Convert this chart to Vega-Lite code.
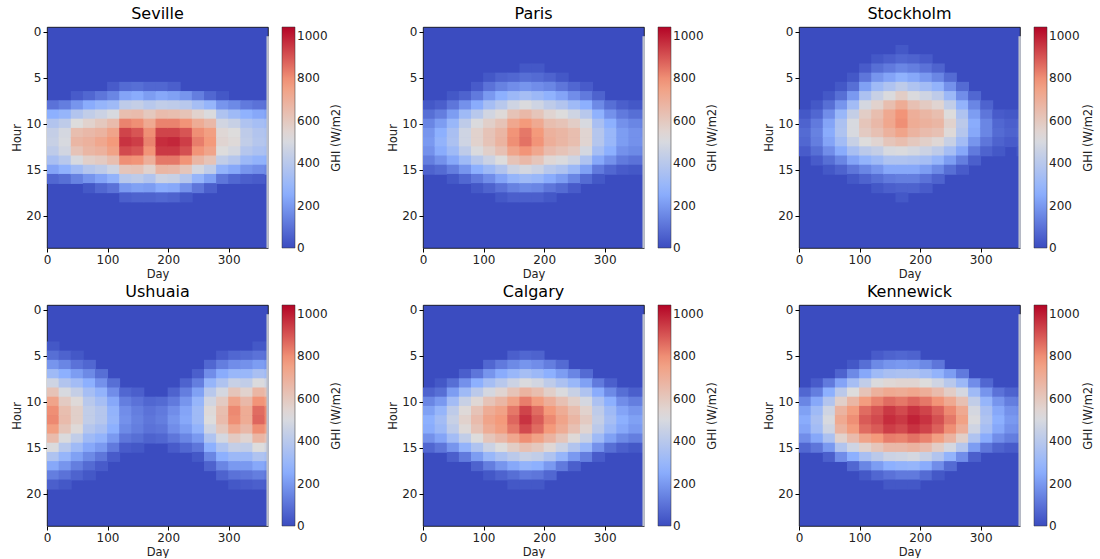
{"$schema":"https://vega.github.io/schema/vega-lite/v6.json","background":"white","padding":{"left":11,"top":5,"right":0,"bottom":0},
"datasets":{"e":[{"d":364.5,"a":0.5,"b":23.5}],
"s":[{"d":10,"h":8,"v":100},{"d":10,"h":9,"v":260},{"d":10,"h":10,"v":380},{"d":10,"h":11,"v":440},{"d":10,"h":12,"v":450},{"d":10,"h":13,"v":420},{"d":10,"h":14,"v":350},{"d":10,"h":15,"v":230},{"d":10,"h":16,"v":70},
{"d":30,"h":8,"v":130},{"d":30,"h":9,"v":290},{"d":30,"h":10,"v":420},{"d":30,"h":11,"v":490},{"d":30,"h":12,"v":500},{"d":30,"h":13,"v":480},{"d":30,"h":14,"v":400},{"d":30,"h":15,"v":270},{"d":30,"h":16,"v":90},
{"d":50,"h":7,"v":40},{"d":50,"h":8,"v":190},{"d":50,"h":9,"v":380},{"d":50,"h":10,"v":520},{"d":50,"h":11,"v":640},{"d":50,"h":12,"v":670},{"d":50,"h":13,"v":620},{"d":50,"h":14,"v":500},{"d":50,"h":15,"v":330},{"d":50,"h":16,"v":140},
{"d":70,"h":7,"v":70},{"d":70,"h":8,"v":250},{"d":70,"h":9,"v":430},{"d":70,"h":10,"v":560},{"d":70,"h":11,"v":660},{"d":70,"h":12,"v":690},{"d":70,"h":13,"v":670},{"d":70,"h":14,"v":570},{"d":70,"h":15,"v":390},{"d":70,"h":16,"v":190},{"d":70,"h":17,"v":30},
{"d":90,"h":7,"v":110},{"d":90,"h":8,"v":290},{"d":90,"h":9,"v":460},{"d":90,"h":10,"v":600},{"d":90,"h":11,"v":680},{"d":90,"h":12,"v":730},{"d":90,"h":13,"v":690},{"d":90,"h":14,"v":590},{"d":90,"h":15,"v":420},{"d":90,"h":16,"v":230},{"d":90,"h":17,"v":70},
{"d":110,"h":6,"v":40},{"d":110,"h":7,"v":150},{"d":110,"h":8,"v":320},{"d":110,"h":9,"v":500},{"d":110,"h":10,"v":650},{"d":110,"h":11,"v":740},{"d":110,"h":12,"v":780},{"d":110,"h":13,"v":750},{"d":110,"h":14,"v":640},{"d":110,"h":15,"v":470},{"d":110,"h":16,"v":280},{"d":110,"h":17,"v":100},
{"d":130,"h":6,"v":80},{"d":130,"h":7,"v":230},{"d":130,"h":8,"v":420},{"d":130,"h":9,"v":640},{"d":130,"h":10,"v":820},{"d":130,"h":11,"v":930},{"d":130,"h":12,"v":960},{"d":130,"h":13,"v":920},{"d":130,"h":14,"v":800},{"d":130,"h":15,"v":610},{"d":130,"h":16,"v":400},{"d":130,"h":17,"v":200},{"d":130,"h":18,"v":50},
{"d":150,"h":6,"v":90},{"d":150,"h":7,"v":250},{"d":150,"h":8,"v":440},{"d":150,"h":9,"v":650},{"d":150,"h":10,"v":800},{"d":150,"h":11,"v":900},{"d":150,"h":12,"v":940},{"d":150,"h":13,"v":900},{"d":150,"h":14,"v":790},{"d":150,"h":15,"v":620},{"d":150,"h":16,"v":420},{"d":150,"h":17,"v":220},{"d":150,"h":18,"v":60},
{"d":170,"h":6,"v":70},{"d":170,"h":7,"v":210},{"d":170,"h":8,"v":400},{"d":170,"h":9,"v":600},{"d":170,"h":10,"v":720},{"d":170,"h":11,"v":800},{"d":170,"h":12,"v":820},{"d":170,"h":13,"v":790},{"d":170,"h":14,"v":700},{"d":170,"h":15,"v":560},{"d":170,"h":16,"v":380},{"d":170,"h":17,"v":210},{"d":170,"h":18,"v":60},
{"d":190,"h":6,"v":70},{"d":190,"h":7,"v":240},{"d":190,"h":8,"v":430},{"d":190,"h":9,"v":650},{"d":190,"h":10,"v":820},{"d":190,"h":11,"v":930},{"d":190,"h":12,"v":970},{"d":190,"h":13,"v":950},{"d":190,"h":14,"v":840},{"d":190,"h":15,"v":670},{"d":190,"h":16,"v":460},{"d":190,"h":17,"v":250},{"d":190,"h":18,"v":70},
{"d":210,"h":6,"v":50},{"d":210,"h":7,"v":220},{"d":210,"h":8,"v":420},{"d":210,"h":9,"v":640},{"d":210,"h":10,"v":820},{"d":210,"h":11,"v":930},{"d":210,"h":12,"v":980},{"d":210,"h":13,"v":950},{"d":210,"h":14,"v":840},{"d":210,"h":15,"v":660},{"d":210,"h":16,"v":450},{"d":210,"h":17,"v":240},{"d":210,"h":18,"v":60},
{"d":230,"h":7,"v":190},{"d":230,"h":8,"v":400},{"d":230,"h":9,"v":620},{"d":230,"h":10,"v":790},{"d":230,"h":11,"v":900},{"d":230,"h":12,"v":940},{"d":230,"h":13,"v":910},{"d":230,"h":14,"v":790},{"d":230,"h":15,"v":610},{"d":230,"h":16,"v":390},{"d":230,"h":17,"v":180},{"d":230,"h":18,"v":30},
{"d":250,"h":7,"v":130},{"d":250,"h":8,"v":340},{"d":250,"h":9,"v":560},{"d":250,"h":10,"v":710},{"d":250,"h":11,"v":800},{"d":250,"h":12,"v":830},{"d":250,"h":13,"v":790},{"d":250,"h":14,"v":670},{"d":250,"h":15,"v":490},{"d":250,"h":16,"v":290},{"d":250,"h":17,"v":110},
{"d":270,"h":7,"v":70},{"d":270,"h":8,"v":290},{"d":270,"h":9,"v":510},{"d":270,"h":10,"v":660},{"d":270,"h":11,"v":760},{"d":270,"h":12,"v":780},{"d":270,"h":13,"v":740},{"d":270,"h":14,"v":620},{"d":270,"h":15,"v":430},{"d":270,"h":16,"v":220},{"d":270,"h":17,"v":50},
{"d":290,"h":7,"v":30},{"d":290,"h":8,"v":190},{"d":290,"h":9,"v":370},{"d":290,"h":10,"v":480},{"d":290,"h":11,"v":540},{"d":290,"h":12,"v":550},{"d":290,"h":13,"v":520},{"d":290,"h":14,"v":430},{"d":290,"h":15,"v":280},{"d":290,"h":16,"v":110},
{"d":310,"h":8,"v":160},{"d":310,"h":9,"v":320},{"d":310,"h":10,"v":450},{"d":310,"h":11,"v":520},{"d":310,"h":12,"v":530},{"d":310,"h":13,"v":490},{"d":310,"h":14,"v":390},{"d":310,"h":15,"v":240},{"d":310,"h":16,"v":70},
{"d":330,"h":8,"v":120},{"d":330,"h":9,"v":270},{"d":330,"h":10,"v":370},{"d":330,"h":11,"v":420},{"d":330,"h":12,"v":430},{"d":330,"h":13,"v":390},{"d":330,"h":14,"v":310},{"d":330,"h":15,"v":190},{"d":330,"h":16,"v":50},
{"d":350,"h":8,"v":100},{"d":350,"h":9,"v":240},{"d":350,"h":10,"v":340},{"d":350,"h":11,"v":380},{"d":350,"h":12,"v":390},{"d":350,"h":13,"v":360},{"d":350,"h":14,"v":280},{"d":350,"h":15,"v":170},{"d":350,"h":16,"v":40},
{"d":370,"h":8,"v":90},{"d":370,"h":9,"v":220},{"d":370,"h":10,"v":320},{"d":370,"h":11,"v":360},{"d":370,"h":12,"v":370},{"d":370,"h":13,"v":340},{"d":370,"h":14,"v":260},{"d":370,"h":15,"v":150}],
"p":[{"d":10,"h":8,"v":30},{"d":10,"h":9,"v":90},{"d":10,"h":10,"v":150},{"d":10,"h":11,"v":190},{"d":10,"h":12,"v":200},{"d":10,"h":13,"v":180},{"d":10,"h":14,"v":130},{"d":10,"h":15,"v":60},
{"d":30,"h":8,"v":50},{"d":30,"h":9,"v":130},{"d":30,"h":10,"v":210},{"d":30,"h":11,"v":260},{"d":30,"h":12,"v":280},{"d":30,"h":13,"v":250},{"d":30,"h":14,"v":180},{"d":30,"h":15,"v":80},
{"d":50,"h":7,"v":30},{"d":50,"h":8,"v":110},{"d":50,"h":9,"v":210},{"d":50,"h":10,"v":300},{"d":50,"h":11,"v":350},{"d":50,"h":12,"v":360},{"d":50,"h":13,"v":320},{"d":50,"h":14,"v":240},{"d":50,"h":15,"v":130},{"d":50,"h":16,"v":30},
{"d":70,"h":7,"v":60},{"d":70,"h":8,"v":180},{"d":70,"h":9,"v":320},{"d":70,"h":10,"v":420},{"d":70,"h":11,"v":470},{"d":70,"h":12,"v":470},{"d":70,"h":13,"v":420},{"d":70,"h":14,"v":320},{"d":70,"h":15,"v":190},{"d":70,"h":16,"v":70},
{"d":90,"h":6,"v":40},{"d":90,"h":7,"v":120},{"d":90,"h":8,"v":250},{"d":90,"h":9,"v":400},{"d":90,"h":10,"v":510},{"d":90,"h":11,"v":560},{"d":90,"h":12,"v":560},{"d":90,"h":13,"v":510},{"d":90,"h":14,"v":400},{"d":90,"h":15,"v":260},{"d":90,"h":16,"v":120},{"d":90,"h":17,"v":30},
{"d":110,"h":5,"v":30},{"d":110,"h":6,"v":100},{"d":110,"h":7,"v":200},{"d":110,"h":8,"v":340},{"d":110,"h":9,"v":480},{"d":110,"h":10,"v":570},{"d":110,"h":11,"v":620},{"d":110,"h":12,"v":620},{"d":110,"h":13,"v":570},{"d":110,"h":14,"v":460},{"d":110,"h":15,"v":320},{"d":110,"h":16,"v":170},{"d":110,"h":17,"v":60},
{"d":130,"h":5,"v":60},{"d":130,"h":6,"v":140},{"d":130,"h":7,"v":260},{"d":130,"h":8,"v":400},{"d":130,"h":9,"v":530},{"d":130,"h":10,"v":620},{"d":130,"h":11,"v":670},{"d":130,"h":12,"v":680},{"d":130,"h":13,"v":630},{"d":130,"h":14,"v":520},{"d":130,"h":15,"v":380},{"d":130,"h":16,"v":230},{"d":130,"h":17,"v":100},{"d":130,"h":18,"v":30},
{"d":150,"h":5,"v":70},{"d":150,"h":6,"v":170},{"d":150,"h":7,"v":310},{"d":150,"h":8,"v":470},{"d":150,"h":9,"v":620},{"d":150,"h":10,"v":730},{"d":150,"h":11,"v":790},{"d":150,"h":12,"v":800},{"d":150,"h":13,"v":740},{"d":150,"h":14,"v":620},{"d":150,"h":15,"v":460},{"d":150,"h":16,"v":290},{"d":150,"h":17,"v":140},{"d":150,"h":18,"v":50},
{"d":170,"h":4,"v":30},{"d":170,"h":5,"v":90},{"d":170,"h":6,"v":190},{"d":170,"h":7,"v":340},{"d":170,"h":8,"v":510},{"d":170,"h":9,"v":660},{"d":170,"h":10,"v":780},{"d":170,"h":11,"v":840},{"d":170,"h":12,"v":850},{"d":170,"h":13,"v":790},{"d":170,"h":14,"v":660},{"d":170,"h":15,"v":490},{"d":170,"h":16,"v":320},{"d":170,"h":17,"v":160},{"d":170,"h":18,"v":50},
{"d":190,"h":4,"v":30},{"d":190,"h":5,"v":80},{"d":190,"h":6,"v":170},{"d":190,"h":7,"v":310},{"d":190,"h":8,"v":470},{"d":190,"h":9,"v":610},{"d":190,"h":10,"v":720},{"d":190,"h":11,"v":780},{"d":190,"h":12,"v":790},{"d":190,"h":13,"v":730},{"d":190,"h":14,"v":610},{"d":190,"h":15,"v":460},{"d":190,"h":16,"v":300},{"d":190,"h":17,"v":150},{"d":190,"h":18,"v":50},
{"d":210,"h":5,"v":60},{"d":210,"h":6,"v":150},{"d":210,"h":7,"v":270},{"d":210,"h":8,"v":420},{"d":210,"h":9,"v":550},{"d":210,"h":10,"v":640},{"d":210,"h":11,"v":690},{"d":210,"h":12,"v":700},{"d":210,"h":13,"v":650},{"d":210,"h":14,"v":540},{"d":210,"h":15,"v":400},{"d":210,"h":16,"v":250},{"d":210,"h":17,"v":110},{"d":210,"h":18,"v":30},
{"d":230,"h":5,"v":30},{"d":230,"h":6,"v":110},{"d":230,"h":7,"v":230},{"d":230,"h":8,"v":380},{"d":230,"h":9,"v":520},{"d":230,"h":10,"v":620},{"d":230,"h":11,"v":670},{"d":230,"h":12,"v":670},{"d":230,"h":13,"v":620},{"d":230,"h":14,"v":510},{"d":230,"h":15,"v":370},{"d":230,"h":16,"v":210},{"d":230,"h":17,"v":80},
{"d":250,"h":6,"v":70},{"d":250,"h":7,"v":170},{"d":250,"h":8,"v":320},{"d":250,"h":9,"v":470},{"d":250,"h":10,"v":580},{"d":250,"h":11,"v":640},{"d":250,"h":12,"v":640},{"d":250,"h":13,"v":590},{"d":250,"h":14,"v":470},{"d":250,"h":15,"v":310},{"d":250,"h":16,"v":150},{"d":250,"h":17,"v":40},
{"d":270,"h":6,"v":40},{"d":270,"h":7,"v":120},{"d":270,"h":8,"v":260},{"d":270,"h":9,"v":400},{"d":270,"h":10,"v":500},{"d":270,"h":11,"v":550},{"d":270,"h":12,"v":550},{"d":270,"h":13,"v":490},{"d":270,"h":14,"v":370},{"d":270,"h":15,"v":220},{"d":270,"h":16,"v":80},
{"d":290,"h":7,"v":60},{"d":290,"h":8,"v":160},{"d":290,"h":9,"v":270},{"d":290,"h":10,"v":350},{"d":290,"h":11,"v":390},{"d":290,"h":12,"v":390},{"d":290,"h":13,"v":340},{"d":290,"h":14,"v":240},{"d":290,"h":15,"v":120},{"d":290,"h":16,"v":30},
{"d":310,"h":8,"v":90},{"d":310,"h":9,"v":180},{"d":310,"h":10,"v":260},{"d":310,"h":11,"v":300},{"d":310,"h":12,"v":300},{"d":310,"h":13,"v":260},{"d":310,"h":14,"v":180},{"d":310,"h":15,"v":70},
{"d":330,"h":8,"v":50},{"d":330,"h":9,"v":120},{"d":330,"h":10,"v":180},{"d":330,"h":11,"v":210},{"d":330,"h":12,"v":210},{"d":330,"h":13,"v":180},{"d":330,"h":14,"v":120},{"d":330,"h":15,"v":40},
{"d":350,"h":8,"v":30},{"d":350,"h":9,"v":90},{"d":350,"h":10,"v":150},{"d":350,"h":11,"v":180},{"d":350,"h":12,"v":180},{"d":350,"h":13,"v":160},{"d":350,"h":14,"v":100},{"d":350,"h":15,"v":30},
{"d":370,"h":8,"v":30},{"d":370,"h":9,"v":90},{"d":370,"h":10,"v":140},{"d":370,"h":11,"v":170},{"d":370,"h":12,"v":180},{"d":370,"h":13,"v":150},{"d":370,"h":14,"v":100},{"d":370,"h":15,"v":30}],
"k":[{"d":10,"h":9,"v":30},{"d":10,"h":10,"v":60},{"d":10,"h":11,"v":80},{"d":10,"h":12,"v":70},{"d":10,"h":13,"v":40},
{"d":30,"h":8,"v":30},{"d":30,"h":9,"v":70},{"d":30,"h":10,"v":120},{"d":30,"h":11,"v":140},{"d":30,"h":12,"v":130},{"d":30,"h":13,"v":90},{"d":30,"h":14,"v":40},
{"d":50,"h":7,"v":30},{"d":50,"h":8,"v":90},{"d":50,"h":9,"v":170},{"d":50,"h":10,"v":230},{"d":50,"h":11,"v":250},{"d":50,"h":12,"v":230},{"d":50,"h":13,"v":170},{"d":50,"h":14,"v":90},{"d":50,"h":15,"v":30},
{"d":70,"h":6,"v":30},{"d":70,"h":7,"v":90},{"d":70,"h":8,"v":190},{"d":70,"h":9,"v":300},{"d":70,"h":10,"v":360},{"d":70,"h":11,"v":370},{"d":70,"h":12,"v":330},{"d":70,"h":13,"v":250},{"d":70,"h":14,"v":150},{"d":70,"h":15,"v":60},
{"d":90,"h":5,"v":30},{"d":90,"h":6,"v":90},{"d":90,"h":7,"v":200},{"d":90,"h":8,"v":330},{"d":90,"h":9,"v":440},{"d":90,"h":10,"v":500},{"d":90,"h":11,"v":500},{"d":90,"h":12,"v":450},{"d":90,"h":13,"v":350},{"d":90,"h":14,"v":230},{"d":90,"h":15,"v":110},{"d":90,"h":16,"v":30},
{"d":110,"h":4,"v":40},{"d":110,"h":5,"v":110},{"d":110,"h":6,"v":220},{"d":110,"h":7,"v":360},{"d":110,"h":8,"v":490},{"d":110,"h":9,"v":580},{"d":110,"h":10,"v":610},{"d":110,"h":11,"v":590},{"d":110,"h":12,"v":520},{"d":110,"h":13,"v":410},{"d":110,"h":14,"v":280},{"d":110,"h":15,"v":150},{"d":110,"h":16,"v":60},
{"d":130,"h":3,"v":30},{"d":130,"h":4,"v":90},{"d":130,"h":5,"v":190},{"d":130,"h":6,"v":320},{"d":130,"h":7,"v":450},{"d":130,"h":8,"v":560},{"d":130,"h":9,"v":640},{"d":130,"h":10,"v":660},{"d":130,"h":11,"v":630},{"d":130,"h":12,"v":550},{"d":130,"h":13,"v":440},{"d":130,"h":14,"v":320},{"d":130,"h":15,"v":190},{"d":130,"h":16,"v":90},{"d":130,"h":17,"v":30},
{"d":150,"h":3,"v":50},{"d":150,"h":4,"v":120},{"d":150,"h":5,"v":230},{"d":150,"h":6,"v":370},{"d":150,"h":7,"v":510},{"d":150,"h":8,"v":640},{"d":150,"h":9,"v":720},{"d":150,"h":10,"v":730},{"d":150,"h":11,"v":690},{"d":150,"h":12,"v":610},{"d":150,"h":13,"v":500},{"d":150,"h":14,"v":370},{"d":150,"h":15,"v":240},{"d":150,"h":16,"v":120},{"d":150,"h":17,"v":50},
{"d":170,"h":2,"v":30},{"d":170,"h":3,"v":70},{"d":170,"h":4,"v":150},{"d":170,"h":5,"v":270},{"d":170,"h":6,"v":420},{"d":170,"h":7,"v":580},{"d":170,"h":8,"v":710},{"d":170,"h":9,"v":790},{"d":170,"h":10,"v":800},{"d":170,"h":11,"v":740},{"d":170,"h":12,"v":640},{"d":170,"h":13,"v":510},{"d":170,"h":14,"v":370},{"d":170,"h":15,"v":240},{"d":170,"h":16,"v":130},{"d":170,"h":17,"v":60},{"d":170,"h":18,"v":30},
{"d":190,"h":3,"v":60},{"d":190,"h":4,"v":130},{"d":190,"h":5,"v":240},{"d":190,"h":6,"v":370},{"d":190,"h":7,"v":510},{"d":190,"h":8,"v":630},{"d":190,"h":9,"v":700},{"d":190,"h":10,"v":710},{"d":190,"h":11,"v":680},{"d":190,"h":12,"v":600},{"d":190,"h":13,"v":490},{"d":190,"h":14,"v":360},{"d":190,"h":15,"v":240},{"d":190,"h":16,"v":130},{"d":190,"h":17,"v":60},
{"d":210,"h":3,"v":40},{"d":210,"h":4,"v":100},{"d":210,"h":5,"v":200},{"d":210,"h":6,"v":330},{"d":210,"h":7,"v":470},{"d":210,"h":8,"v":590},{"d":210,"h":9,"v":670},{"d":210,"h":10,"v":690},{"d":210,"h":11,"v":650},{"d":210,"h":12,"v":570},{"d":210,"h":13,"v":460},{"d":210,"h":14,"v":340},{"d":210,"h":15,"v":210},{"d":210,"h":16,"v":100},{"d":210,"h":17,"v":40},
{"d":230,"h":4,"v":60},{"d":230,"h":5,"v":150},{"d":230,"h":6,"v":280},{"d":230,"h":7,"v":420},{"d":230,"h":8,"v":550},{"d":230,"h":9,"v":640},{"d":230,"h":10,"v":670},{"d":230,"h":11,"v":630},{"d":230,"h":12,"v":540},{"d":230,"h":13,"v":420},{"d":230,"h":14,"v":290},{"d":230,"h":15,"v":160},{"d":230,"h":16,"v":60},
{"d":250,"h":5,"v":80},{"d":250,"h":6,"v":180},{"d":250,"h":7,"v":310},{"d":250,"h":8,"v":430},{"d":250,"h":9,"v":520},{"d":250,"h":10,"v":560},{"d":250,"h":11,"v":530},{"d":250,"h":12,"v":450},{"d":250,"h":13,"v":340},{"d":250,"h":14,"v":210},{"d":250,"h":15,"v":90},
{"d":270,"h":6,"v":80},{"d":270,"h":7,"v":170},{"d":270,"h":8,"v":280},{"d":270,"h":9,"v":370},{"d":270,"h":10,"v":410},{"d":270,"h":11,"v":390},{"d":270,"h":12,"v":330},{"d":270,"h":13,"v":240},{"d":270,"h":14,"v":130},{"d":270,"h":15,"v":40},
{"d":290,"h":7,"v":70},{"d":290,"h":8,"v":150},{"d":290,"h":9,"v":210},{"d":290,"h":10,"v":250},{"d":290,"h":11,"v":240},{"d":290,"h":12,"v":190},{"d":290,"h":13,"v":120},{"d":290,"h":14,"v":50},
{"d":310,"h":8,"v":60},{"d":310,"h":9,"v":110},{"d":310,"h":10,"v":150},{"d":310,"h":11,"v":150},{"d":310,"h":12,"v":110},{"d":310,"h":13,"v":60},
{"d":330,"h":9,"v":40},{"d":330,"h":10,"v":70},{"d":330,"h":11,"v":80},{"d":330,"h":12,"v":60},{"d":330,"h":13,"v":30},
{"d":350,"h":9,"v":30},{"d":350,"h":10,"v":50},{"d":350,"h":11,"v":60},{"d":350,"h":12,"v":40},
{"d":370,"h":9,"v":30},{"d":370,"h":10,"v":60},{"d":370,"h":11,"v":70},{"d":370,"h":12,"v":50},{"d":370,"h":13,"v":30}],
"u":[{"d":10,"h":4,"v":30},{"d":10,"h":5,"v":90},{"d":10,"h":6,"v":190},{"d":10,"h":7,"v":320},{"d":10,"h":8,"v":470},{"d":10,"h":9,"v":620},{"d":10,"h":10,"v":740},{"d":10,"h":11,"v":800},{"d":10,"h":12,"v":810},{"d":10,"h":13,"v":760},{"d":10,"h":14,"v":650},{"d":10,"h":15,"v":510},{"d":10,"h":16,"v":370},{"d":10,"h":17,"v":240},{"d":10,"h":18,"v":130},{"d":10,"h":19,"v":50},
{"d":30,"h":5,"v":60},{"d":30,"h":6,"v":150},{"d":30,"h":7,"v":260},{"d":30,"h":8,"v":380},{"d":30,"h":9,"v":500},{"d":30,"h":10,"v":590},{"d":30,"h":11,"v":640},{"d":30,"h":12,"v":650},{"d":30,"h":13,"v":610},{"d":30,"h":14,"v":510},{"d":30,"h":15,"v":400},{"d":30,"h":16,"v":290},{"d":30,"h":17,"v":190},{"d":30,"h":18,"v":100},{"d":30,"h":19,"v":30},
{"d":50,"h":5,"v":30},{"d":50,"h":6,"v":100},{"d":50,"h":7,"v":210},{"d":50,"h":8,"v":330},{"d":50,"h":9,"v":440},{"d":50,"h":10,"v":530},{"d":50,"h":11,"v":570},{"d":50,"h":12,"v":570},{"d":50,"h":13,"v":530},{"d":50,"h":14,"v":430},{"d":50,"h":15,"v":320},{"d":50,"h":16,"v":220},{"d":50,"h":17,"v":130},{"d":50,"h":18,"v":60},
{"d":70,"h":6,"v":70},{"d":70,"h":7,"v":160},{"d":70,"h":8,"v":260},{"d":70,"h":9,"v":340},{"d":70,"h":10,"v":400},{"d":70,"h":11,"v":430},{"d":70,"h":12,"v":430},{"d":70,"h":13,"v":390},{"d":70,"h":14,"v":320},{"d":70,"h":15,"v":240},{"d":70,"h":16,"v":160},{"d":70,"h":17,"v":80},{"d":70,"h":18,"v":30},
{"d":90,"h":7,"v":90},{"d":90,"h":8,"v":180},{"d":90,"h":9,"v":280},{"d":90,"h":10,"v":340},{"d":90,"h":11,"v":390},{"d":90,"h":12,"v":390},{"d":90,"h":13,"v":350},{"d":90,"h":14,"v":280},{"d":90,"h":15,"v":200},{"d":90,"h":16,"v":110},{"d":90,"h":17,"v":40},
{"d":110,"h":8,"v":90},{"d":110,"h":9,"v":170},{"d":110,"h":10,"v":240},{"d":110,"h":11,"v":280},{"d":110,"h":12,"v":290},{"d":110,"h":13,"v":260},{"d":110,"h":14,"v":200},{"d":110,"h":15,"v":120},{"d":110,"h":16,"v":40},
{"d":130,"h":9,"v":70},{"d":130,"h":10,"v":130},{"d":130,"h":11,"v":170},{"d":130,"h":12,"v":180},{"d":130,"h":13,"v":160},{"d":130,"h":14,"v":110},{"d":130,"h":15,"v":40},
{"d":150,"h":9,"v":50},{"d":150,"h":10,"v":100},{"d":150,"h":11,"v":130},{"d":150,"h":12,"v":140},{"d":150,"h":13,"v":130},{"d":150,"h":14,"v":90},{"d":150,"h":15,"v":30},
{"d":170,"h":10,"v":70},{"d":170,"h":11,"v":100},{"d":170,"h":12,"v":110},{"d":170,"h":13,"v":100},{"d":170,"h":14,"v":60},
{"d":190,"h":10,"v":80},{"d":190,"h":11,"v":120},{"d":190,"h":12,"v":130},{"d":190,"h":13,"v":110},{"d":190,"h":14,"v":70},
{"d":210,"h":9,"v":60},{"d":210,"h":10,"v":120},{"d":210,"h":11,"v":170},{"d":210,"h":12,"v":190},{"d":210,"h":13,"v":170},{"d":210,"h":14,"v":110},{"d":210,"h":15,"v":40},
{"d":230,"h":8,"v":60},{"d":230,"h":9,"v":130},{"d":230,"h":10,"v":190},{"d":230,"h":11,"v":230},{"d":230,"h":12,"v":240},{"d":230,"h":13,"v":210},{"d":230,"h":14,"v":150},{"d":230,"h":15,"v":70},
{"d":250,"h":7,"v":50},{"d":250,"h":8,"v":130},{"d":250,"h":9,"v":220},{"d":250,"h":10,"v":290},{"d":250,"h":11,"v":320},{"d":250,"h":12,"v":320},{"d":250,"h":13,"v":280},{"d":250,"h":14,"v":200},{"d":250,"h":15,"v":110},{"d":250,"h":16,"v":30},
{"d":270,"h":6,"v":70},{"d":270,"h":7,"v":170},{"d":270,"h":8,"v":290},{"d":270,"h":9,"v":400},{"d":270,"h":10,"v":480},{"d":270,"h":11,"v":530},{"d":270,"h":12,"v":520},{"d":270,"h":13,"v":470},{"d":270,"h":14,"v":370},{"d":270,"h":15,"v":260},{"d":270,"h":16,"v":150},{"d":270,"h":17,"v":60},
{"d":290,"h":5,"v":40},{"d":290,"h":6,"v":130},{"d":290,"h":7,"v":250},{"d":290,"h":8,"v":370},{"d":290,"h":9,"v":490},{"d":290,"h":10,"v":590},{"d":290,"h":11,"v":640},{"d":290,"h":12,"v":650},{"d":290,"h":13,"v":600},{"d":290,"h":14,"v":490},{"d":290,"h":15,"v":370},{"d":290,"h":16,"v":260},{"d":290,"h":17,"v":150},{"d":290,"h":18,"v":60},
{"d":310,"h":5,"v":70},{"d":310,"h":6,"v":170},{"d":310,"h":7,"v":300},{"d":310,"h":8,"v":450},{"d":310,"h":9,"v":610},{"d":310,"h":10,"v":740},{"d":310,"h":11,"v":810},{"d":310,"h":12,"v":800},{"d":310,"h":13,"v":720},{"d":310,"h":14,"v":590},{"d":310,"h":15,"v":440},{"d":310,"h":16,"v":310},{"d":310,"h":17,"v":200},{"d":310,"h":18,"v":100},{"d":310,"h":19,"v":30},
{"d":330,"h":5,"v":80},{"d":330,"h":6,"v":180},{"d":330,"h":7,"v":300},{"d":330,"h":8,"v":430},{"d":330,"h":9,"v":560},{"d":330,"h":10,"v":660},{"d":330,"h":11,"v":710},{"d":330,"h":12,"v":710},{"d":330,"h":13,"v":660},{"d":330,"h":14,"v":550},{"d":330,"h":15,"v":430},{"d":330,"h":16,"v":310},{"d":330,"h":17,"v":200},{"d":330,"h":18,"v":110},{"d":330,"h":19,"v":40},
{"d":350,"h":4,"v":30},{"d":350,"h":5,"v":100},{"d":350,"h":6,"v":210},{"d":350,"h":7,"v":350},{"d":350,"h":8,"v":510},{"d":350,"h":9,"v":670},{"d":350,"h":10,"v":790},{"d":350,"h":11,"v":860},{"d":350,"h":12,"v":870},{"d":350,"h":13,"v":800},{"d":350,"h":14,"v":670},{"d":350,"h":15,"v":520},{"d":350,"h":16,"v":370},{"d":350,"h":17,"v":240},{"d":350,"h":18,"v":130},{"d":350,"h":19,"v":50},
{"d":370,"h":4,"v":30},{"d":370,"h":5,"v":90},{"d":370,"h":6,"v":190},{"d":370,"h":7,"v":320},{"d":370,"h":8,"v":470},{"d":370,"h":9,"v":630},{"d":370,"h":10,"v":750},{"d":370,"h":11,"v":810},{"d":370,"h":12,"v":810},{"d":370,"h":13,"v":750},{"d":370,"h":14,"v":630},{"d":370,"h":15,"v":480},{"d":370,"h":16,"v":340},{"d":370,"h":17,"v":210},{"d":370,"h":18,"v":110},{"d":370,"h":19,"v":40}],
"c":[{"d":10,"h":9,"v":60},{"d":10,"h":10,"v":150},{"d":10,"h":11,"v":220},{"d":10,"h":12,"v":260},{"d":10,"h":13,"v":250},{"d":10,"h":14,"v":180},{"d":10,"h":15,"v":70},
{"d":30,"h":8,"v":30},{"d":30,"h":9,"v":90},{"d":30,"h":10,"v":200},{"d":30,"h":11,"v":290},{"d":30,"h":12,"v":330},{"d":30,"h":13,"v":310},{"d":30,"h":14,"v":230},{"d":30,"h":15,"v":110},
{"d":50,"h":8,"v":90},{"d":50,"h":9,"v":210},{"d":50,"h":10,"v":330},{"d":50,"h":11,"v":420},{"d":50,"h":12,"v":450},{"d":50,"h":13,"v":420},{"d":50,"h":14,"v":330},{"d":50,"h":15,"v":190},{"d":50,"h":16,"v":50},
{"d":70,"h":7,"v":50},{"d":70,"h":8,"v":180},{"d":70,"h":9,"v":320},{"d":70,"h":10,"v":450},{"d":70,"h":11,"v":530},{"d":70,"h":12,"v":560},{"d":70,"h":13,"v":530},{"d":70,"h":14,"v":430},{"d":70,"h":15,"v":280},{"d":70,"h":16,"v":120},
{"d":90,"h":7,"v":110},{"d":90,"h":8,"v":260},{"d":90,"h":9,"v":410},{"d":90,"h":10,"v":540},{"d":90,"h":11,"v":620},{"d":90,"h":12,"v":650},{"d":90,"h":13,"v":620},{"d":90,"h":14,"v":520},{"d":90,"h":15,"v":370},{"d":90,"h":16,"v":210},{"d":90,"h":17,"v":60},
{"d":110,"h":6,"v":70},{"d":110,"h":7,"v":190},{"d":110,"h":8,"v":340},{"d":110,"h":9,"v":490},{"d":110,"h":10,"v":620},{"d":110,"h":11,"v":710},{"d":110,"h":12,"v":740},{"d":110,"h":13,"v":710},{"d":110,"h":14,"v":610},{"d":110,"h":15,"v":460},{"d":110,"h":16,"v":300},{"d":110,"h":17,"v":130},{"d":110,"h":18,"v":30},
{"d":130,"h":6,"v":120},{"d":130,"h":7,"v":250},{"d":130,"h":8,"v":400},{"d":130,"h":9,"v":550},{"d":130,"h":10,"v":670},{"d":130,"h":11,"v":750},{"d":130,"h":12,"v":780},{"d":130,"h":13,"v":760},{"d":130,"h":14,"v":660},{"d":130,"h":15,"v":520},{"d":130,"h":16,"v":360},{"d":130,"h":17,"v":190},{"d":130,"h":18,"v":60},
{"d":150,"h":5,"v":50},{"d":150,"h":6,"v":160},{"d":150,"h":7,"v":300},{"d":150,"h":8,"v":460},{"d":150,"h":9,"v":620},{"d":150,"h":10,"v":750},{"d":150,"h":11,"v":840},{"d":150,"h":12,"v":870},{"d":150,"h":13,"v":840},{"d":150,"h":14,"v":730},{"d":150,"h":15,"v":580},{"d":150,"h":16,"v":410},{"d":150,"h":17,"v":240},{"d":150,"h":18,"v":90},{"d":150,"h":19,"v":30},
{"d":170,"h":5,"v":70},{"d":170,"h":6,"v":190},{"d":170,"h":7,"v":340},{"d":170,"h":8,"v":510},{"d":170,"h":9,"v":680},{"d":170,"h":10,"v":830},{"d":170,"h":11,"v":930},{"d":170,"h":12,"v":960},{"d":170,"h":13,"v":920},{"d":170,"h":14,"v":800},{"d":170,"h":15,"v":630},{"d":170,"h":16,"v":450},{"d":170,"h":17,"v":280},{"d":170,"h":18,"v":120},{"d":170,"h":19,"v":30},
{"d":190,"h":5,"v":60},{"d":190,"h":6,"v":170},{"d":190,"h":7,"v":310},{"d":190,"h":8,"v":480},{"d":190,"h":9,"v":640},{"d":190,"h":10,"v":770},{"d":190,"h":11,"v":860},{"d":190,"h":12,"v":890},{"d":190,"h":13,"v":860},{"d":190,"h":14,"v":750},{"d":190,"h":15,"v":600},{"d":190,"h":16,"v":430},{"d":190,"h":17,"v":260},{"d":190,"h":18,"v":110},{"d":190,"h":19,"v":30},
{"d":210,"h":6,"v":130},{"d":210,"h":7,"v":260},{"d":210,"h":8,"v":420},{"d":210,"h":9,"v":570},{"d":210,"h":10,"v":700},{"d":210,"h":11,"v":780},{"d":210,"h":12,"v":810},{"d":210,"h":13,"v":780},{"d":210,"h":14,"v":680},{"d":210,"h":15,"v":540},{"d":210,"h":16,"v":370},{"d":210,"h":17,"v":200},{"d":210,"h":18,"v":70},
{"d":230,"h":6,"v":80},{"d":230,"h":7,"v":210},{"d":230,"h":8,"v":360},{"d":230,"h":9,"v":510},{"d":230,"h":10,"v":630},{"d":230,"h":11,"v":710},{"d":230,"h":12,"v":740},{"d":230,"h":13,"v":710},{"d":230,"h":14,"v":610},{"d":230,"h":15,"v":460},{"d":230,"h":16,"v":290},{"d":230,"h":17,"v":120},
{"d":250,"h":7,"v":150},{"d":250,"h":8,"v":300},{"d":250,"h":9,"v":450},{"d":250,"h":10,"v":570},{"d":250,"h":11,"v":640},{"d":250,"h":12,"v":670},{"d":250,"h":13,"v":630},{"d":250,"h":14,"v":530},{"d":250,"h":15,"v":380},{"d":250,"h":16,"v":200},{"d":250,"h":17,"v":50},
{"d":270,"h":7,"v":80},{"d":270,"h":8,"v":220},{"d":270,"h":9,"v":370},{"d":270,"h":10,"v":490},{"d":270,"h":11,"v":560},{"d":270,"h":12,"v":590},{"d":270,"h":13,"v":550},{"d":270,"h":14,"v":450},{"d":270,"h":15,"v":300},{"d":270,"h":16,"v":130},
{"d":290,"h":8,"v":120},{"d":290,"h":9,"v":250},{"d":290,"h":10,"v":360},{"d":290,"h":11,"v":420},{"d":290,"h":12,"v":440},{"d":290,"h":13,"v":410},{"d":290,"h":14,"v":320},{"d":290,"h":15,"v":180},{"d":290,"h":16,"v":40},
{"d":310,"h":8,"v":50},{"d":310,"h":9,"v":160},{"d":310,"h":10,"v":260},{"d":310,"h":11,"v":320},{"d":310,"h":12,"v":340},{"d":310,"h":13,"v":310},{"d":310,"h":14,"v":220},{"d":310,"h":15,"v":90},
{"d":330,"h":9,"v":90},{"d":330,"h":10,"v":170},{"d":330,"h":11,"v":230},{"d":330,"h":12,"v":260},{"d":330,"h":13,"v":240},{"d":330,"h":14,"v":160},{"d":330,"h":15,"v":50},
{"d":350,"h":9,"v":50},{"d":350,"h":10,"v":130},{"d":350,"h":11,"v":190},{"d":350,"h":12,"v":220},{"d":350,"h":13,"v":200},{"d":350,"h":14,"v":130},{"d":350,"h":15,"v":30},
{"d":370,"h":9,"v":60},{"d":370,"h":10,"v":140},{"d":370,"h":11,"v":200},{"d":370,"h":12,"v":230},{"d":370,"h":13,"v":210},{"d":370,"h":14,"v":140},{"d":370,"h":15,"v":40}],
"w":[{"d":10,"h":9,"v":70},{"d":10,"h":10,"v":150},{"d":10,"h":11,"v":220},{"d":10,"h":12,"v":250},{"d":10,"h":13,"v":230},{"d":10,"h":14,"v":170},{"d":10,"h":15,"v":70},
{"d":30,"h":8,"v":40},{"d":30,"h":9,"v":130},{"d":30,"h":10,"v":240},{"d":30,"h":11,"v":320},{"d":30,"h":12,"v":350},{"d":30,"h":13,"v":330},{"d":30,"h":14,"v":240},{"d":30,"h":15,"v":110},
{"d":50,"h":8,"v":120},{"d":50,"h":9,"v":260},{"d":50,"h":10,"v":380},{"d":50,"h":11,"v":470},{"d":50,"h":12,"v":500},{"d":50,"h":13,"v":470},{"d":50,"h":14,"v":360},{"d":50,"h":15,"v":200},{"d":50,"h":16,"v":50},
{"d":70,"h":7,"v":60},{"d":70,"h":8,"v":230},{"d":70,"h":9,"v":410},{"d":70,"h":10,"v":570},{"d":70,"h":11,"v":680},{"d":70,"h":12,"v":720},{"d":70,"h":13,"v":680},{"d":70,"h":14,"v":560},{"d":70,"h":15,"v":380},{"d":70,"h":16,"v":170},
{"d":90,"h":6,"v":30},{"d":90,"h":7,"v":160},{"d":90,"h":8,"v":340},{"d":90,"h":9,"v":520},{"d":90,"h":10,"v":670},{"d":90,"h":11,"v":770},{"d":90,"h":12,"v":800},{"d":90,"h":13,"v":770},{"d":90,"h":14,"v":650},{"d":90,"h":15,"v":470},{"d":90,"h":16,"v":260},{"d":90,"h":17,"v":70},
{"d":110,"h":6,"v":90},{"d":110,"h":7,"v":240},{"d":110,"h":8,"v":430},{"d":110,"h":9,"v":620},{"d":110,"h":10,"v":770},{"d":110,"h":11,"v":860},{"d":110,"h":12,"v":890},{"d":110,"h":13,"v":860},{"d":110,"h":14,"v":740},{"d":110,"h":15,"v":560},{"d":110,"h":16,"v":350},{"d":110,"h":17,"v":150},{"d":110,"h":18,"v":30},
{"d":130,"h":5,"v":40},{"d":130,"h":6,"v":160},{"d":130,"h":7,"v":320},{"d":130,"h":8,"v":510},{"d":130,"h":9,"v":690},{"d":130,"h":10,"v":820},{"d":130,"h":11,"v":900},{"d":130,"h":12,"v":920},{"d":130,"h":13,"v":890},{"d":130,"h":14,"v":780},{"d":130,"h":15,"v":610},{"d":130,"h":16,"v":410},{"d":130,"h":17,"v":210},{"d":130,"h":18,"v":70},
{"d":150,"h":5,"v":60},{"d":150,"h":6,"v":190},{"d":150,"h":7,"v":350},{"d":150,"h":8,"v":540},{"d":150,"h":9,"v":720},{"d":150,"h":10,"v":860},{"d":150,"h":11,"v":950},{"d":150,"h":12,"v":970},{"d":150,"h":13,"v":940},{"d":150,"h":14,"v":830},{"d":150,"h":15,"v":660},{"d":150,"h":16,"v":460},{"d":150,"h":17,"v":260},{"d":150,"h":18,"v":100},{"d":150,"h":19,"v":30},
{"d":170,"h":5,"v":70},{"d":170,"h":6,"v":200},{"d":170,"h":7,"v":360},{"d":170,"h":8,"v":550},{"d":170,"h":9,"v":710},{"d":170,"h":10,"v":840},{"d":170,"h":11,"v":920},{"d":170,"h":12,"v":950},{"d":170,"h":13,"v":920},{"d":170,"h":14,"v":820},{"d":170,"h":15,"v":660},{"d":170,"h":16,"v":470},{"d":170,"h":17,"v":280},{"d":170,"h":18,"v":120},{"d":170,"h":19,"v":30},
{"d":190,"h":5,"v":60},{"d":190,"h":6,"v":190},{"d":190,"h":7,"v":360},{"d":190,"h":8,"v":550},{"d":190,"h":9,"v":730},{"d":190,"h":10,"v":870},{"d":190,"h":11,"v":960},{"d":190,"h":12,"v":990},{"d":190,"h":13,"v":960},{"d":190,"h":14,"v":850},{"d":190,"h":15,"v":680},{"d":190,"h":16,"v":490},{"d":190,"h":17,"v":290},{"d":190,"h":18,"v":120},{"d":190,"h":19,"v":30},
{"d":210,"h":6,"v":160},{"d":210,"h":7,"v":330},{"d":210,"h":8,"v":520},{"d":210,"h":9,"v":700},{"d":210,"h":10,"v":840},{"d":210,"h":11,"v":930},{"d":210,"h":12,"v":960},{"d":210,"h":13,"v":930},{"d":210,"h":14,"v":820},{"d":210,"h":15,"v":650},{"d":210,"h":16,"v":450},{"d":210,"h":17,"v":250},{"d":210,"h":18,"v":80},
{"d":230,"h":6,"v":110},{"d":230,"h":7,"v":280},{"d":230,"h":8,"v":470},{"d":230,"h":9,"v":650},{"d":230,"h":10,"v":790},{"d":230,"h":11,"v":880},{"d":230,"h":12,"v":910},{"d":230,"h":13,"v":880},{"d":230,"h":14,"v":760},{"d":230,"h":15,"v":580},{"d":230,"h":16,"v":380},{"d":230,"h":17,"v":170},{"d":230,"h":18,"v":30},
{"d":250,"h":7,"v":210},{"d":250,"h":8,"v":400},{"d":250,"h":9,"v":580},{"d":250,"h":10,"v":720},{"d":250,"h":11,"v":810},{"d":250,"h":12,"v":840},{"d":250,"h":13,"v":800},{"d":250,"h":14,"v":680},{"d":250,"h":15,"v":490},{"d":250,"h":16,"v":280},{"d":250,"h":17,"v":80},
{"d":270,"h":7,"v":120},{"d":270,"h":8,"v":310},{"d":270,"h":9,"v":490},{"d":270,"h":10,"v":630},{"d":270,"h":11,"v":720},{"d":270,"h":12,"v":750},{"d":270,"h":13,"v":700},{"d":270,"h":14,"v":570},{"d":270,"h":15,"v":390},{"d":270,"h":16,"v":170},
{"d":290,"h":8,"v":170},{"d":290,"h":9,"v":320},{"d":290,"h":10,"v":430},{"d":290,"h":11,"v":490},{"d":290,"h":12,"v":510},{"d":290,"h":13,"v":470},{"d":290,"h":14,"v":370},{"d":290,"h":15,"v":210},{"d":290,"h":16,"v":50},
{"d":310,"h":8,"v":70},{"d":310,"h":9,"v":190},{"d":310,"h":10,"v":290},{"d":310,"h":11,"v":350},{"d":310,"h":12,"v":370},{"d":310,"h":13,"v":340},{"d":310,"h":14,"v":250},{"d":310,"h":15,"v":110},
{"d":330,"h":9,"v":100},{"d":330,"h":10,"v":190},{"d":330,"h":11,"v":240},{"d":330,"h":12,"v":260},{"d":330,"h":13,"v":240},{"d":330,"h":14,"v":170},{"d":330,"h":15,"v":60},
{"d":350,"h":9,"v":60},{"d":350,"h":10,"v":130},{"d":350,"h":11,"v":180},{"d":350,"h":12,"v":200},{"d":350,"h":13,"v":180},{"d":350,"h":14,"v":130},{"d":350,"h":15,"v":40},
{"d":370,"h":9,"v":50},{"d":370,"h":10,"v":120},{"d":370,"h":11,"v":170},{"d":370,"h":12,"v":190},{"d":370,"h":13,"v":170},{"d":370,"h":14,"v":120},{"d":370,"h":15,"v":40}]},
"config":{"view":{"fill":"#3b4cc0","stroke":"black","strokeWidth":0.8},"font":"DejaVu Sans","title":{"fontSize":16,"fontWeight":"normal","offset":0},
"axis":{"labelFontSize":12,"titleFontSize":11.5,"titleFontWeight":"normal","grid":false,"domain":false,"labelFlush":false,"tickColor":"black","labelColor":"#222","titleColor":"#222","titlePadding":3,"tickSize":4},
"legend":{"orient":"right","gradientLength":221,"gradientThickness":13,"titleOrient":"right","titlePadding":14,"titleFontSize":11.5,"titleFontWeight":"normal","labelFontSize":12,"offset":14,"titleAnchor":"middle","gradientStrokeColor":"#333","gradientStrokeWidth":0.5,"labelColor":"#222","titleColor":"#222"}},
"vconcat":[
{"hconcat":[
{"title":"Seville","width":221,"height":221,"layer":[{"data":{"name":"s"},"mark":{"type":"rect","width":13,"height":10,"clip":true},"encoding":{"x":{"field":"d","type":"quantitative","title":"Day","scale":{"domain":[0,365],"nice":false},"axis":{"values":[0,100,200,300]}},"y":{"field":"h","type":"quantitative","title":"Hour","scale":{"domain":[23.5,-0.5],"nice":false,"zero":false},"axis":{"values":[0,5,10,15,20]}},"color":{"field":"v","type":"quantitative","title":"GHI (W/m2)","scale":{"interpolate":"rgb","domain":[0,260,520,780,1042],"range":["#3b4cc0","#8db0fe","#dddcdc","#f49a7b","#b40426"]},"legend":{"values":[0,200,400,600,800,1000],"format":"d","encode":{"labels":{"update":{"baseline":{"value":"middle"}}},"title":{"update":{"angle":{"value":270}}}}}}}},{"data":{"name":"e"},"mark":{"type":"rule","color":"#bcc0cc","strokeWidth":2.5},"encoding":{"x":{"field":"d","type":"quantitative"},"y":{"field":"a","type":"quantitative"},"y2":{"field":"b"}}}]},
{"title":"Paris","width":221,"height":221,"layer":[{"data":{"name":"p"},"mark":{"type":"rect","width":13,"height":10,"clip":true},"encoding":{"x":{"field":"d","type":"quantitative","title":"Day","scale":{"domain":[0,365],"nice":false},"axis":{"values":[0,100,200,300]}},"y":{"field":"h","type":"quantitative","title":"Hour","scale":{"domain":[23.5,-0.5],"nice":false,"zero":false},"axis":{"values":[0,5,10,15,20]}},"color":{"field":"v","type":"quantitative","title":"GHI (W/m2)","scale":{"interpolate":"rgb","domain":[0,260,520,780,1042],"range":["#3b4cc0","#8db0fe","#dddcdc","#f49a7b","#b40426"]},"legend":{"values":[0,200,400,600,800,1000],"format":"d","encode":{"labels":{"update":{"baseline":{"value":"middle"}}},"title":{"update":{"angle":{"value":270}}}}}}}},{"data":{"name":"e"},"mark":{"type":"rule","color":"#bcc0cc","strokeWidth":2.5},"encoding":{"x":{"field":"d","type":"quantitative"},"y":{"field":"a","type":"quantitative"},"y2":{"field":"b"}}}]},
{"title":"Stockholm","width":221,"height":221,"layer":[{"data":{"name":"k"},"mark":{"type":"rect","width":13,"height":10,"clip":true},"encoding":{"x":{"field":"d","type":"quantitative","title":"Day","scale":{"domain":[0,365],"nice":false},"axis":{"values":[0,100,200,300]}},"y":{"field":"h","type":"quantitative","title":"Hour","scale":{"domain":[23.5,-0.5],"nice":false,"zero":false},"axis":{"values":[0,5,10,15,20]}},"color":{"field":"v","type":"quantitative","title":"GHI (W/m2)","scale":{"interpolate":"rgb","domain":[0,260,520,780,1042],"range":["#3b4cc0","#8db0fe","#dddcdc","#f49a7b","#b40426"]},"legend":{"values":[0,200,400,600,800,1000],"format":"d","encode":{"labels":{"update":{"baseline":{"value":"middle"}}},"title":{"update":{"angle":{"value":270}}}}}}}},{"data":{"name":"e"},"mark":{"type":"rule","color":"#bcc0cc","strokeWidth":2.5},"encoding":{"x":{"field":"d","type":"quantitative"},"y":{"field":"a","type":"quantitative"},"y2":{"field":"b"}}}]}
],"spacing":43,"resolve":{"scale":{"color":"independent"}}},
{"hconcat":[
{"title":"Ushuaia","width":221,"height":221,"layer":[{"data":{"name":"u"},"mark":{"type":"rect","width":13,"height":10,"clip":true},"encoding":{"x":{"field":"d","type":"quantitative","title":"Day","scale":{"domain":[0,365],"nice":false},"axis":{"values":[0,100,200,300]}},"y":{"field":"h","type":"quantitative","title":"Hour","scale":{"domain":[23.5,-0.5],"nice":false,"zero":false},"axis":{"values":[0,5,10,15,20]}},"color":{"field":"v","type":"quantitative","title":"GHI (W/m2)","scale":{"interpolate":"rgb","domain":[0,260,520,780,1042],"range":["#3b4cc0","#8db0fe","#dddcdc","#f49a7b","#b40426"]},"legend":{"values":[0,200,400,600,800,1000],"format":"d","encode":{"labels":{"update":{"baseline":{"value":"middle"}}},"title":{"update":{"angle":{"value":270}}}}}}}},{"data":{"name":"e"},"mark":{"type":"rule","color":"#bcc0cc","strokeWidth":2.5},"encoding":{"x":{"field":"d","type":"quantitative"},"y":{"field":"a","type":"quantitative"},"y2":{"field":"b"}}}]},
{"title":"Calgary","width":221,"height":221,"layer":[{"data":{"name":"c"},"mark":{"type":"rect","width":13,"height":10,"clip":true},"encoding":{"x":{"field":"d","type":"quantitative","title":"Day","scale":{"domain":[0,365],"nice":false},"axis":{"values":[0,100,200,300]}},"y":{"field":"h","type":"quantitative","title":"Hour","scale":{"domain":[23.5,-0.5],"nice":false,"zero":false},"axis":{"values":[0,5,10,15,20]}},"color":{"field":"v","type":"quantitative","title":"GHI (W/m2)","scale":{"interpolate":"rgb","domain":[0,260,520,780,1042],"range":["#3b4cc0","#8db0fe","#dddcdc","#f49a7b","#b40426"]},"legend":{"values":[0,200,400,600,800,1000],"format":"d","encode":{"labels":{"update":{"baseline":{"value":"middle"}}},"title":{"update":{"angle":{"value":270}}}}}}}},{"data":{"name":"e"},"mark":{"type":"rule","color":"#bcc0cc","strokeWidth":2.5},"encoding":{"x":{"field":"d","type":"quantitative"},"y":{"field":"a","type":"quantitative"},"y2":{"field":"b"}}}]},
{"title":"Kennewick","width":221,"height":221,"layer":[{"data":{"name":"w"},"mark":{"type":"rect","width":13,"height":10,"clip":true},"encoding":{"x":{"field":"d","type":"quantitative","title":"Day","scale":{"domain":[0,365],"nice":false},"axis":{"values":[0,100,200,300]}},"y":{"field":"h","type":"quantitative","title":"Hour","scale":{"domain":[23.5,-0.5],"nice":false,"zero":false},"axis":{"values":[0,5,10,15,20]}},"color":{"field":"v","type":"quantitative","title":"GHI (W/m2)","scale":{"interpolate":"rgb","domain":[0,260,520,780,1042],"range":["#3b4cc0","#8db0fe","#dddcdc","#f49a7b","#b40426"]},"legend":{"values":[0,200,400,600,800,1000],"format":"d","encode":{"labels":{"update":{"baseline":{"value":"middle"}}},"title":{"update":{"angle":{"value":270}}}}}}}},{"data":{"name":"e"},"mark":{"type":"rule","color":"#bcc0cc","strokeWidth":2.5},"encoding":{"x":{"field":"d","type":"quantitative"},"y":{"field":"a","type":"quantitative"},"y2":{"field":"b"}}}]}
],"spacing":43,"resolve":{"scale":{"color":"independent"}}}
],"spacing":3}
